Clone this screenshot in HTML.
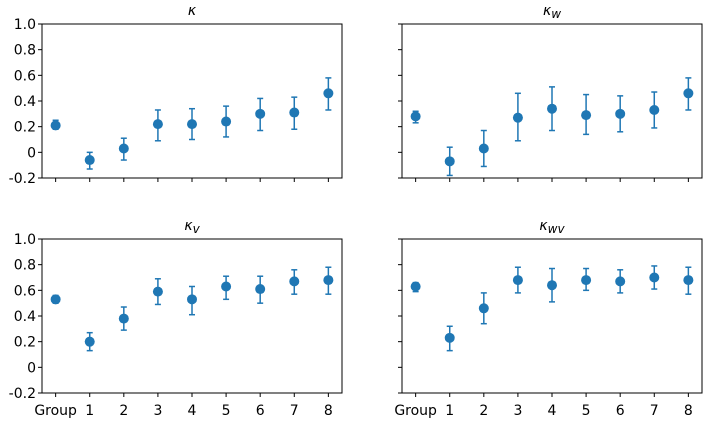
<!DOCTYPE html>
<html><head><meta charset="utf-8"><style>
body{margin:0;background:#fff;}
svg text{font-family:"DejaVu Sans","Liberation Sans",sans-serif;font-size:14px;fill:#000;}
</style></head><body>
<svg id="chart" width="711" height="423"></svg>
<script>
const categories=["Group","1","2","3","4","5","6","7","8"];
const titles=["κ","κw","κv","κwv"];
const kMean=[0.21,-0.06,0.03,0.22,0.22,0.24,0.30,0.31,0.46];
const kLo=[0.18,-0.13,-0.06,0.09,0.10,0.12,0.17,0.18,0.33];
const kHi=[0.25,0.00,0.11,0.33,0.34,0.36,0.42,0.43,0.58];
const kwMean=[0.28,-0.07,0.03,0.27,0.34,0.29,0.30,0.33,0.46];
const kwLo=[0.23,-0.18,-0.11,0.09,0.17,0.14,0.16,0.19,0.33];
const kwHi=[0.32,0.04,0.17,0.46,0.51,0.45,0.44,0.47,0.58];
const kvMean=[0.53,0.20,0.38,0.59,0.53,0.63,0.61,0.67,0.68];
const kvLo=[0.50,0.13,0.29,0.49,0.41,0.53,0.50,0.57,0.57];
const kvHi=[0.56,0.27,0.47,0.69,0.63,0.71,0.71,0.76,0.78];
const kwvMean=[0.63,0.23,0.46,0.68,0.64,0.68,0.67,0.70,0.68];
const kwvLo=[0.59,0.13,0.34,0.58,0.51,0.60,0.58,0.61,0.57];
const kwvHi=[0.66,0.32,0.58,0.78,0.77,0.77,0.76,0.79,0.78];
const yTicks=[-0.2,0,0.2,0.4,0.6,0.8,1.0];
const yTickLabels=["-0.2","0","0.2","0.4","0.6","0.8","1.0"];

const NS="http://www.w3.org/2000/svg";
const svg=document.getElementById('chart');
function mk(tag,attrs,parent){const e=document.createElementNS(NS,tag);for(const k in attrs)e.setAttribute(k,attrs[k]);(parent||svg).appendChild(e);return e;}
const panels=[
 {x0:42,y0:24,mean:kMean,lo:kLo,hi:kHi,name:"kappa",sub:"",yl:true,xl:false},
 {x0:402,y0:24,mean:kwMean,lo:kwLo,hi:kwHi,name:"kappa-w",sub:"w",yl:false,xl:false},
 {x0:42,y0:239,mean:kvMean,lo:kvLo,hi:kvHi,name:"kappa-v",sub:"v",yl:true,xl:true},
 {x0:402,y0:239,mean:kwvMean,lo:kwvLo,hi:kwvHi,name:"kappa-wv",sub:"wv",yl:false,xl:true}
];
const W=300,H=154,C="#1f77b4";
panels.forEach(p=>{
  const g=mk('g',{});
  
  
  const xs=i=>p.x0+(i+0.4)/8.8*W;
  const ys=v=>p.y0+(1.0-v)/1.2*H;
  const t=mk('text',{x:p.x0+W/2,y:p.y0-9,'text-anchor':'middle','font-style':'italic','font-size':'16'},g);
  
  
  t.textContent='κ';
  if(p.sub){const s=mk('tspan',{'font-size':'12','dy':'3'},t);s.textContent=p.sub;}
  yTicks.forEach((v,i)=>{
    const y=ys(v);
    mk('line',{x1:p.x0-4,x2:p.x0,y1:y,y2:y,stroke:'#000','stroke-width':1},g);
    if(p.yl){const l=mk('text',{x:p.x0-6,y:y+5,'text-anchor':'end'},g);
      
      
      l.textContent=yTickLabels[i];}
  });
  categories.forEach((c,i)=>{
    const x=xs(i);
    mk('line',{x1:x,x2:x,y1:p.y0+H,y2:p.y0+H+4,stroke:'#000','stroke-width':1},g);
    if(p.xl){const l=mk('text',{x:x,y:p.y0+H+22,'text-anchor':'middle'},g);
      
      
      l.textContent=c;}
    const eb=mk('g',{stroke:C,'stroke-width':1.5},g);
    
    
    mk('line',{x1:x,x2:x,y1:ys(p.lo[i]),y2:ys(p.hi[i])},eb);
    mk('line',{x1:x-3,x2:x+3,y1:ys(p.lo[i]),y2:ys(p.lo[i])},eb);
    mk('line',{x1:x-3,x2:x+3,y1:ys(p.hi[i]),y2:ys(p.hi[i])},eb);
    const pt=mk('circle',{cx:x,cy:ys(p.mean[i]),r:5,fill:C},g);
    
    
  });
  const fr=mk('rect',{x:p.x0,y:p.y0,width:W,height:H,fill:'none',stroke:'#000','stroke-width':1},g);
  
  
});
</script>
</body></html>
